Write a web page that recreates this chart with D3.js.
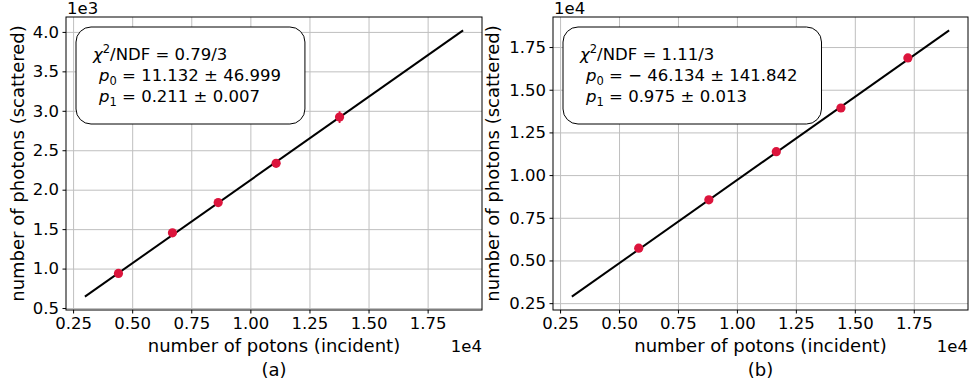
<!DOCTYPE html>
<html>
<head>
<meta charset="utf-8">
<script src="https://cdn.jsdelivr.net/npm/d3@7"></script>
<style>
  body { margin: 0; background: #fff; }
  svg { display: block; font-family: "DejaVu Sans", sans-serif; }
</style>
</head>
<body>
<script>
// panel (a)
const xA = [4418, 6704, 8639, 11090, 13774];
const yA = [939, 1453, 1837, 2334, 2920];
const errA = [30, 35, 40, 45, 75];
const fitA = [[3000, 644.1], [19000, 4020.1]];
const ticksXA = [2500, 5000, 7500, 10000, 12500, 15000, 17500];
const ticksYA = [500, 1000, 1500, 2000, 2500, 3000, 3500, 4000];

// panel (b)
const xB = [5835, 8810, 11670, 14410, 17250];
const yB = [5720, 8550, 11370, 13930, 16860];
const errB = [60, 75, 90, 100, 110];
const fitB = [[3000, 2878.9], [19000, 18478.9]];
const ticksXB = [2500, 5000, 7500, 10000, 12500, 15000, 17500];
const ticksYB = [2500, 5000, 7500, 10000, 12500, 15000, 17500];

const width = 969;
const height = 386;
const tickSize = 16.5;
const labelSize = 18;

const svg = d3.select('body').append('svg')
    .attr('width', width)
    .attr('height', height);

function panel(cfg) {
    const { left, right, top, bottom } = cfg;
    const x = d3.scaleLinear().domain(cfg.xDomain).range([left, right]);
    const y = d3.scaleLinear().domain(cfg.yDomain).range([bottom, top]);
    const g = svg.append('g');

    // grid
    g.append('g')
        .attr('transform', `translate(0,${bottom})`)
        .call(d3.axisBottom(x).tickValues(cfg.ticksX).tickSize(-(bottom - top)).tickFormat(''))
        .call(a => a.select('.domain').remove())
        .call(a => a.selectAll('line').attr('stroke', '#bfbfbf').attr('stroke-width', 1));
    g.append('g')
        .attr('transform', `translate(${left},0)`)
        .call(d3.axisLeft(y).tickValues(cfg.ticksY).tickSize(-(right - left)).tickFormat(''))
        .call(a => a.select('.domain').remove())
        .call(a => a.selectAll('line').attr('stroke', '#bfbfbf').attr('stroke-width', 1));

    // fit line
    g.append('path')
        .datum(cfg.fit)
        .attr('fill', 'none')
        .attr('stroke', '#000')
        .attr('stroke-width', 2)
        .attr('d', d3.line().x(d => x(d[0])).y(d => y(d[1])));

    // data points with error bars
    const pts = cfg.xs.map((v, i) => ({ x: v, y: cfg.ys[i], e: cfg.errs[i] }));
    g.selectAll('line.err').data(pts).enter().append('line')
        .attr('class', 'err')
        .attr('x1', d => x(d.x)).attr('x2', d => x(d.x))
        .attr('y1', d => y(d.y - d.e)).attr('y2', d => y(d.y + d.e))
        .attr('stroke', '#dc143c')
        .attr('stroke-width', 1.8);
    g.selectAll('circle').data(pts).enter().append('circle')
        .attr('cx', d => x(d.x))
        .attr('cy', d => y(d.y))
        .attr('r', 4.6)
        .attr('fill', '#dc143c');

    // axes
    const xAxis = g.append('g')
        .attr('transform', `translate(0,${bottom})`)
        .call(d3.axisBottom(x).tickValues(cfg.ticksX).tickSize(3.5).tickPadding(3.5)
            .tickFormat(d => (d / 1e4).toFixed(2)));
    const yAxis = g.append('g')
        .attr('transform', `translate(${left},0)`)
        .call(d3.axisLeft(y).tickValues(cfg.ticksY).tickSize(3.5).tickPadding(3.5)
            .tickFormat(d => (d / cfg.yScaleExp).toFixed(cfg.yDigits)));
    [xAxis, yAxis].forEach(a => {
        a.select('.domain').remove();
        a.selectAll('text').attr('font-size', tickSize).attr('font-family', 'DejaVu Sans').attr('fill', '#000');
        a.selectAll('line').attr('stroke', '#000');
    });

    // frame
    g.append('rect')
        .attr('x', left).attr('y', top)
        .attr('width', right - left).attr('height', bottom - top)
        .attr('fill', 'none')
        .attr('stroke', '#000')
        .attr('stroke-width', 1);

    // offset labels
    g.append('text')
        .attr('x', right).attr('y', 352)
        .attr('text-anchor', 'end')
        .attr('font-size', tickSize)
        .text('1e4');
    g.append('text')
        .attr('x', left + 1).attr('y', 14)
        .attr('font-size', tickSize)
        .text(cfg.yOffset);

    // axis labels
    const cx = (left + right) / 2;
    g.append('text')
        .attr('x', cx).attr('y', 352)
        .attr('text-anchor', 'middle')
        .attr('font-size', labelSize)
        .text('number of potons (incident)');
    g.append('text')
        .attr('x', cx).attr('y', 376)
        .attr('text-anchor', 'middle')
        .attr('font-size', labelSize)
        .text(cfg.caption);
    g.append('text')
        .attr('transform', `translate(${cfg.yLabelX},${(top + bottom) / 2}) rotate(-90)`)
        .attr('text-anchor', 'middle')
        .attr('font-size', labelSize)
        .text('number of photons (scattered)');

    // fit result box
    const box = g.append('rect')
        .attr('fill', '#fff')
        .attr('stroke', '#000')
        .attr('stroke-width', 1)
        .attr('rx', 15).attr('ry', 15);
    const tx = left + 27;
    const lines = g.append('g');
    cfg.lines.forEach((parts, i) => {
        const t = lines.append('text')
            .attr('x', i === 0 ? tx : tx + 6)
            .attr('y', 60 + i * 21)
            .attr('font-size', tickSize);
        parts.forEach(p => {
            const s = t.append('tspan').text(p[0]);
            if (p[1] === 'it') s.attr('font-style', 'italic');
            if (p[1] === 'sub') s.attr('font-size', 11.5).attr('dy', 4);
            if (p[1] === 'sup') s.attr('font-size', 11.5).attr('dy', -7);
            if (p[1] === 'back') s.attr('dy', -4);
            if (p[1] === 'backup') s.attr('dy', 7);
        });
    });
    const bb = lines.node().getBBox();
    box.attr('x', left + 10)
        .attr('y', 27)
        .attr('width', bb.x + bb.width + 24 - (left + 10))
        .attr('height', 97);
}

panel({
    left: 66, right: 482, top: 17, bottom: 310,
    xDomain: [2200, 19800], yDomain: [475, 4189],
    ticksX: ticksXA, ticksY: ticksYA,
    xs: xA, ys: yA, errs: errA, fit: fitA,
    yScaleExp: 1e3, yDigits: 1, yOffset: '1e3',
    yLabelX: 24, caption: '(a)',
    lines: [
        [['χ', 'it'], ['2', 'sup'], ['/NDF = 0.79/3', 'backup']],
        [['p', 'it'], ['0', 'sub'], [' = 11.132 ± 46.999', 'back']],
        [['p', 'it'], ['1', 'sub'], [' = 0.211 ± 0.007', 'back']]
    ]
});

panel({
    left: 553, right: 968, top: 17, bottom: 310,
    xDomain: [2200, 19800], yDomain: [2099, 19259],
    ticksX: ticksXB, ticksY: ticksYB,
    xs: xB, ys: yB, errs: errB, fit: fitB,
    yScaleExp: 1e4, yDigits: 2, yOffset: '1e4',
    yLabelX: 499, caption: '(b)',
    lines: [
        [['χ', 'it'], ['2', 'sup'], ['/NDF = 1.11/3', 'backup']],
        [['p', 'it'], ['0', 'sub'], [' =  − 46.134 ± 141.842', 'back']],
        [['p', 'it'], ['1', 'sub'], [' = 0.975 ± 0.013', 'back']]
    ]
});
</script>
</body>
</html>
